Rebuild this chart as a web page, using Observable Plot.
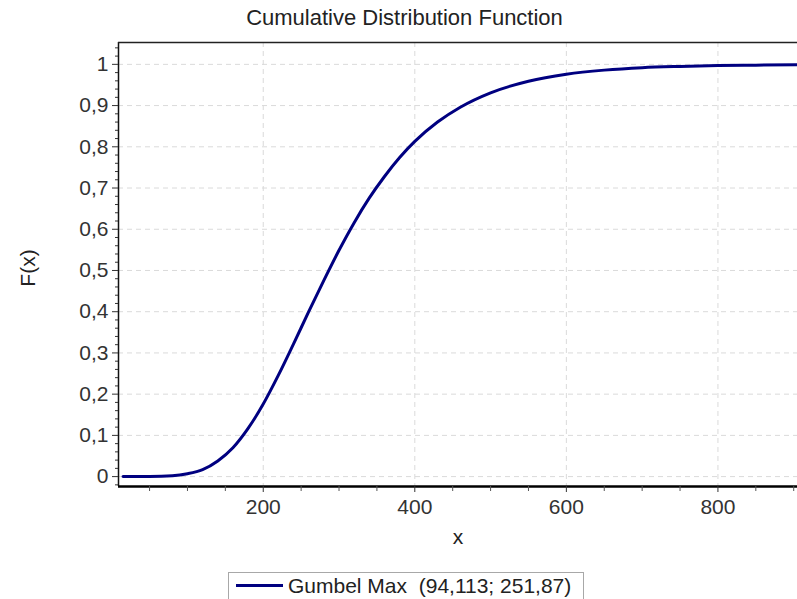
<!DOCTYPE html>
<html>
<head>
<meta charset="utf-8">
<script src="https://cdn.jsdelivr.net/npm/d3@7"></script>
<script src="https://cdn.jsdelivr.net/npm/@observablehq/plot@0.6"></script>
<style>
  html, body { margin: 0; padding: 0; background: #fff; }
  #wrap { position: relative; width: 797px; height: 599px; overflow: hidden; font-family: "Liberation Sans", Arial, sans-serif; color: #222; }
  #title { position: absolute; left: 6px; width: 797px; top: 6px; text-align: center; font-size: 22px; line-height: 24px; }
  #ylab { position: absolute; left: 28px; top: 268px; font-size: 21px; transform: translate(-50%, -50%) rotate(-90deg); white-space: nowrap; }
  #xlab { position: absolute; left: 458px; top: 537px; font-size: 21px; transform: translate(-50%, -50%); }
  #legend { position: absolute; left: 228px; top: 572px; width: 356px; height: 40px; border: 1px solid #a8a8a8; background: #fff; box-sizing: border-box; }
  #legend .sw { position: absolute; left: 7px; top: 11px; width: 47px; height: 3px; background: #000080; }
  #legend .tx { position: absolute; left: 59px; top: 1px; font-size: 21px; line-height: 24px; white-space: pre; }
  #chart { position: absolute; left: 0; top: 0; }
</style>
</head>
<body>
<div id="wrap">
  <div id="chart"></div>
  <div id="title">Cumulative Distribution Function</div>
  <div id="ylab">F(x)</div>
  <div id="xlab">x</div>
  <div id="legend"><div class="sw"></div><div class="tx">Gumbel Max  (94,113; 251,87)</div></div>
</div>
<script>
// Values
const xValues = [15, 50, 80, 100, 120, 140, 160, 180, 200, 220, 240, 260, 280, 300, 320, 340, 360, 380, 400, 430, 460, 500, 550, 600, 650, 700, 750, 800, 850, 905];
const fValues = [0, 0.0002, 0.002, 0.007, 0.017, 0.038, 0.070, 0.117, 0.176, 0.246, 0.322, 0.400, 0.476, 0.549, 0.616, 0.676, 0.728, 0.774, 0.813, 0.860, 0.896, 0.931, 0.959, 0.976, 0.986, 0.992, 0.995, 0.997, 0.998, 0.999];
const xMajorTicks = [200, 400, 600, 800];
const xMinorTicks = [50, 100, 150, 250, 300, 350, 450, 500, 550, 650, 700, 750, 850, 900];
const yMajorTicks = [0, 0.1, 0.2, 0.3, 0.4, 0.5, 0.6, 0.7, 0.8, 0.9, 1];
const yMinorTicks = d3.range(-0.02, 1.05, 0.02).map(v => +v.toFixed(2)).filter(v => Math.abs(v * 10 - Math.round(v * 10)) > 1e-6);
const xDomain = [9, 905];
const yDomain = [-0.024, 1.053];

const data = xValues.map((x, i) => ({x, f: fValues[i]}));
const comma = d => String(d).replace(".", ",");

const gridStyle = {stroke: "#dadada", strokeOpacity: 1, strokeDasharray: "5,4", strokeWidth: 1};

const chart = Plot.plot({
  width: 797,
  height: 599,
  marginLeft: 118,
  marginTop: 42,
  marginRight: 0,
  marginBottom: 113,
  style: {fontFamily: "Liberation Sans, Arial, sans-serif", fontSize: "21px", color: "#333", background: "#fff"},
  x: {domain: xDomain},
  y: {domain: yDomain},
  marks: [
    Plot.gridY(yMajorTicks, gridStyle),
    Plot.gridX(xMajorTicks, gridStyle),
    Plot.line(data, {x: "x", y: "f", stroke: "#000080", strokeWidth: 3, curve: "monotone-x"}),
    Plot.ruleX([xDomain[0]], {stroke: "#111", strokeWidth: 1.5}),
    Plot.ruleY([yDomain[1]], {stroke: "#222", strokeWidth: 1.5}),
    Plot.ruleY([yDomain[0]], {stroke: "#000", strokeWidth: 2.5}),
    Plot.axisY(yMajorTicks, {tickSize: 6, tickPadding: 4, tickFormat: comma, label: null, stroke: "#333", fill: "#333", fontSize: 21}),
    Plot.axisY(yMinorTicks, {tickSize: 3, tickFormat: () => "", label: null, stroke: "#333"}),
    Plot.axisX(xMajorTicks, {tickSize: 6, tickPadding: 7, label: null, stroke: "#333", fill: "#333", fontSize: 21}),
    Plot.axisX(xMinorTicks, {tickSize: 5, tickFormat: () => "", label: null, stroke: "#555"})
  ]
});
document.getElementById("chart").appendChild(chart);
</script>
</body>
</html>
